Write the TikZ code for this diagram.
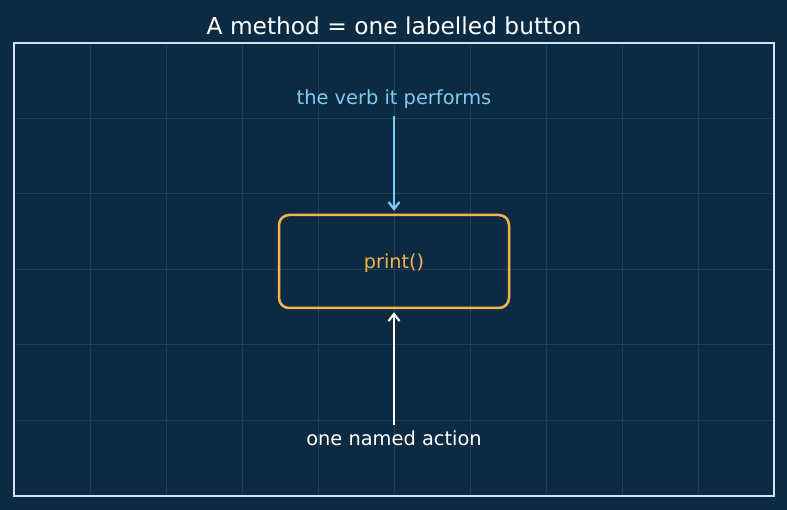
\documentclass[tikz,border=0pt]{standalone}
\usepackage{fontspec}
\setmainfont{DejaVu Sans}
\usetikzlibrary{arrows.meta}
\definecolor{bgc}{HTML}{0C2A42}
\definecolor{gridc}{HTML}{1F3F58}
\definecolor{framec}{HTML}{CFE2F0}
\definecolor{orangec}{HTML}{F2B54A}
\definecolor{bluec}{HTML}{7FCBF5}
\tikzset{
  lbl/.style={font=\fontsize{19.4}{22}\selectfont, inner sep=0pt},
  btnbox/.style={draw=orangec, line width=2.5pt, rounded corners=10pt, minimum width=230pt, minimum height=93pt, text=orangec, font=\fontsize{19.2}{22}\selectfont, text height=16.5pt, text depth=2.5pt},
  conn/.style={line width=2pt, -{Straight Barb[length=7pt,width=11pt,line width=2.2pt]}}
}
\begin{document}
\begin{tikzpicture}[x=1pt,y=-1pt]
\fill[bgc] (0,0) rectangle (787,510);
\useasboundingbox (0,0) rectangle (787,510);
% grid
\foreach \i in {1,...,9} \draw[gridc, line width=1pt] (14+76*\i,45) -- (14+76*\i,494);
\foreach \j in {1,...,5} \draw[gridc, line width=1pt] (16,43+75.5*\j) -- (772,43+75.5*\j);
% frame
\draw[framec, line width=2pt] (14,43) rectangle (774,496);
% title
\node[lbl, text=white, font=\fontsize{23.3}{26}\selectfont] (title) at (394,25.5) {A method = one labelled button};
% button
\node[btnbox] (btn) at (394,261.5) {print()};
% labels
\node[lbl, text=bluec] (verb) at (394,99.5) {the verb it performs};
\node[lbl, text=white] (action) at (394,438.5) {one named action};
% arrows
\draw[conn, bluec] ([yshift=-7pt]verb.south) -- ([yshift=3pt]btn.north);
\draw[conn, white] ([yshift=6pt]action.north) -- ([yshift=-3pt]btn.south);
\end{tikzpicture}
\end{document}
